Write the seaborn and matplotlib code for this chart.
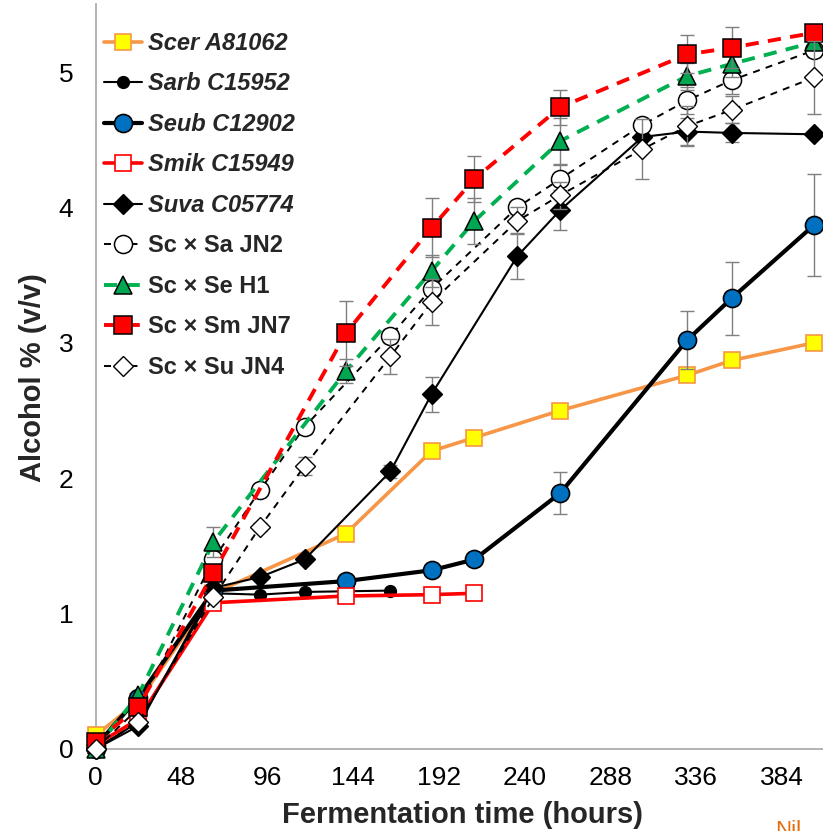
import numpy as np
import pandas as pd
import matplotlib
matplotlib.use("Agg")
import matplotlib.pyplot as plt
import seaborn as sns

# ---------------- data ----------------
scer_t = [0, 24, 66, 140, 188, 212, 260, 331, 356, 402]
scer_v = [0.10, 0.35, 1.15, 1.59, 2.20, 2.30, 2.50, 2.76, 2.87, 3.00]
scer_e = [0, 0, 0, 0, 0, 0, 0, 0, 0, 0]

sarb_t = [0, 24, 66, 92, 117, 165]
sarb_v = [0.00, 0.20, 1.15, 1.14, 1.16, 1.17]
sarb_e = [0, 0, 0, 0, 0, 0]

seub_t = [0, 24, 66, 140, 188, 212, 260, 331, 356, 402]
seub_v = [0.02, 0.38, 1.17, 1.24, 1.32, 1.40, 1.89, 3.02, 3.33, 3.87]
seub_e = [0, 0, 0, 0, 0, 0, 0.155, 0.215, 0.27, 0.38]

smik_t = [0, 24, 66, 140, 188, 212]
smik_v = [0.03, 0.22, 1.08, 1.13, 1.14, 1.15]
smik_e = [0, 0, 0, 0, 0, 0]

suva_t = [0, 24, 66, 92, 117, 165, 188, 236, 260, 306, 331, 356, 402]
suva_v = [0.00, 0.17, 1.19, 1.27, 1.40, 2.05, 2.62, 3.64, 3.98, 4.52, 4.56, 4.55, 4.54]
suva_e = [0, 0, 0, 0, 0, 0.05, 0.13, 0.17, 0.15, 0, 0.1, 0.07, 0.02]

sa_t = [0, 24, 66, 92, 117, 165, 188, 236, 260, 306, 331, 356, 402]
sa_v = [0.00, 0.30, 1.40, 1.91, 2.38, 3.05, 3.40, 4.00, 4.21, 4.61, 4.79, 4.94, 5.16]
sa_e = [0, 0, 0, 0, 0.05, 0.05, 0.10, 0.05, 0.10, 0, 0.10, 0.10, 0.05]

se_t = [0, 24, 66, 140, 188, 212, 260, 331, 356, 402]
se_v = [0.00, 0.40, 1.53, 2.79, 3.53, 3.90, 4.49, 4.97, 5.06, 5.22]
se_e = [0, 0, 0.11, 0.09, 0.12, 0.17, 0.17, 0.10, 0.10, 0.05]

sm_t = [0, 24, 66, 140, 188, 212, 260, 331, 356, 402]
sm_v = [0.05, 0.31, 1.30, 3.07, 3.85, 4.21, 4.74, 5.13, 5.18, 5.29]
sm_e = [0, 0, 0, 0.24, 0.22, 0.17, 0.13, 0.14, 0.15, 0.05]

su_t = [0, 24, 66, 92, 117, 165, 188, 236, 260, 306, 331, 356, 402]
su_v = [0.00, 0.20, 1.12, 1.64, 2.09, 2.90, 3.30, 3.90, 4.09, 4.43, 4.60, 4.72, 4.96]
su_e = [0, 0, 0, 0.03, 0.07, 0.13, 0.17, 0.10, 0.10, 0.22, 0.15, 0.10, 0.27]

labels = ["Scer A81062", "Sarb C15952", "Seub C12902", "Smik C15949", "Suva C05774",
          "Sc \u00d7 Sa JN2", "Sc \u00d7 Se H1", "Sc \u00d7 Sm JN7", "Sc \u00d7 Su JN4"]
x_ticks = [0, 48, 96, 144, 192, 240, 288, 336, 384]
y_ticks = [0, 1, 2, 3, 4, 5]

# ---------------- style ----------------
sns.set_style("white")
plt.rcParams['font.family'] = ['Liberation Sans', 'DejaVu Sans']

W, H = 823, 831
fig = plt.figure(figsize=(W / 100, H / 100), dpi=100)
x0px, y0px = 95.5, 749.0
ax = fig.add_axes([x0px / W, 1 - y0px / H, (W - x0px) / W, (y0px - 4.3) / H])

series = [
    (scer_t, scer_v, scer_e, dict(color="#F79646", lw=2.6, marker="s", ms=12,
                                  mfc="#FFFF00", mec="#F79646", mew=1.2)),
    (sarb_t, sarb_v, sarb_e, dict(color="black", lw=1.5, marker="o", ms=8.5,
                                  mfc="black", mec="black", mew=1)),
    (seub_t, seub_v, seub_e, dict(color="black", lw=3.0, marker="o", ms=13,
                                  mfc="#0070C0", mec="black", mew=1.2)),
    (smik_t, smik_v, smik_e, dict(color="#FF0000", lw=2.6, marker="s", ms=12,
                                  mfc="white", mec="#FF0000", mew=1.2)),
    (suva_t, suva_v, suva_e, dict(color="black", lw=1.5, marker="D", ms=10.5,
                                  mfc="black", mec="black", mew=1)),
    (sa_t, sa_v, sa_e, dict(color="black", lw=1.4, marker="o", ms=13,
                            mfc="white", mec="black", mew=1.1, ls=(0, (3.6, 3.2)))),
    (se_t, se_v, se_e, dict(color="#00B050", lw=2.8, marker="^", ms=13,
                            mfc="#00A651", mec="black", mew=1.1, ls=(0, (3.4, 2.4)))),
    (sm_t, sm_v, sm_e, dict(color="#FF0000", lw=2.8, marker="s", ms=12.5,
                            mfc="#FF0000", mec="black", mew=1.1, ls=(0, (3.4, 2.4)))),
    (su_t, su_v, su_e, dict(color="black", lw=1.4, marker="D", ms=10.5,
                            mfc="white", mec="black", mew=1.0, ls=(0, (3.6, 3.2)))),
]

for i, ((t, v, e, st), lab) in enumerate(zip(series, labels)):
    t = np.asarray(t, float)
    v = np.asarray(v, float)
    e = np.asarray(e, float)
    m = e > 0
    if m.any():
        ax.errorbar(t[m], v[m], yerr=e[m], fmt="none", ecolor="#7F7F7F",
                    elinewidth=1.0, capsize=5, capthick=1.0, zorder=2 + 2 * i)
    df = pd.DataFrame({"t": t, "v": v})
    st = dict(st)
    ls = st.pop("ls", "-")
    sns.lineplot(data=df, x="t", y="v", ax=ax, sort=False, estimator=None,
                 label=lab, color=st["color"], linewidth=st["lw"],
                 marker=st["marker"], markersize=st["ms"],
                 markerfacecolor=st["mfc"], markeredgecolor=st["mec"],
                 markeredgewidth=st["mew"], zorder=3 + 2 * i, clip_on=False)
    ln = ax.lines[-1]
    ln.set_linestyle(ls)
    ln.set_dash_capstyle("butt")

ax.set_xlim(0, 407)
ax.set_ylim(0, 5.5)
ax.set_xticks(x_ticks)
ax.set_yticks(y_ticks)
tick_font = dict(family=['Liberation Sans Narrow', 'Liberation Sans', 'DejaVu Sans'], size=19)
ax.set_xticklabels([str(x) for x in x_ticks], **tick_font)
ax.set_yticklabels([str(y) for y in y_ticks], **tick_font)
ax.tick_params(axis="both", direction="out", length=6, width=1, color="#A6A6A6",
               colors="black", pad=5)
ax.tick_params(axis="x", pad=6)
ax.tick_params(axis="y", pad=10)
for side in ["top", "right"]:
    ax.spines[side].set_visible(False)
for side in ["left", "bottom"]:
    ax.spines[side].set_color("#A6A6A6")
    ax.spines[side].set_linewidth(1.2)

ax.set_xlabel("Fermentation time (hours)", fontsize=21, fontweight="bold")
ax.xaxis.set_label_coords((462 - x0px) / (W - x0px), -(815 - y0px) / (y0px - 4.3))
ax.xaxis.label.set_va("center")
ax.set_ylabel("Alcohol % (v/v)", fontsize=21, fontweight="bold")
ax.yaxis.set_label_coords(-(x0px - 33) / (W - x0px), (y0px - 378) / (y0px - 4.3))
ax.yaxis.label.set_va("center")

leg = ax.legend(loc="upper left", bbox_to_anchor=((104 - x0px) / (W - x0px), 1 - (32 - 4.3) / (y0px - 4.3)),
                frameon=False, handlelength=1.6, handletextpad=0.25,
                labelspacing=0.74, borderpad=0, borderaxespad=0,
                prop=dict(weight="bold", size=17))
for k, txt in enumerate(leg.get_texts()):
    if k < 5:
        txt.set_style("italic")

fig.text(775 / W, 0.0, "Nil", color="#E46C0A", fontsize=16, ha="left", va="center")

fig.savefig("out.png", dpi=100)
